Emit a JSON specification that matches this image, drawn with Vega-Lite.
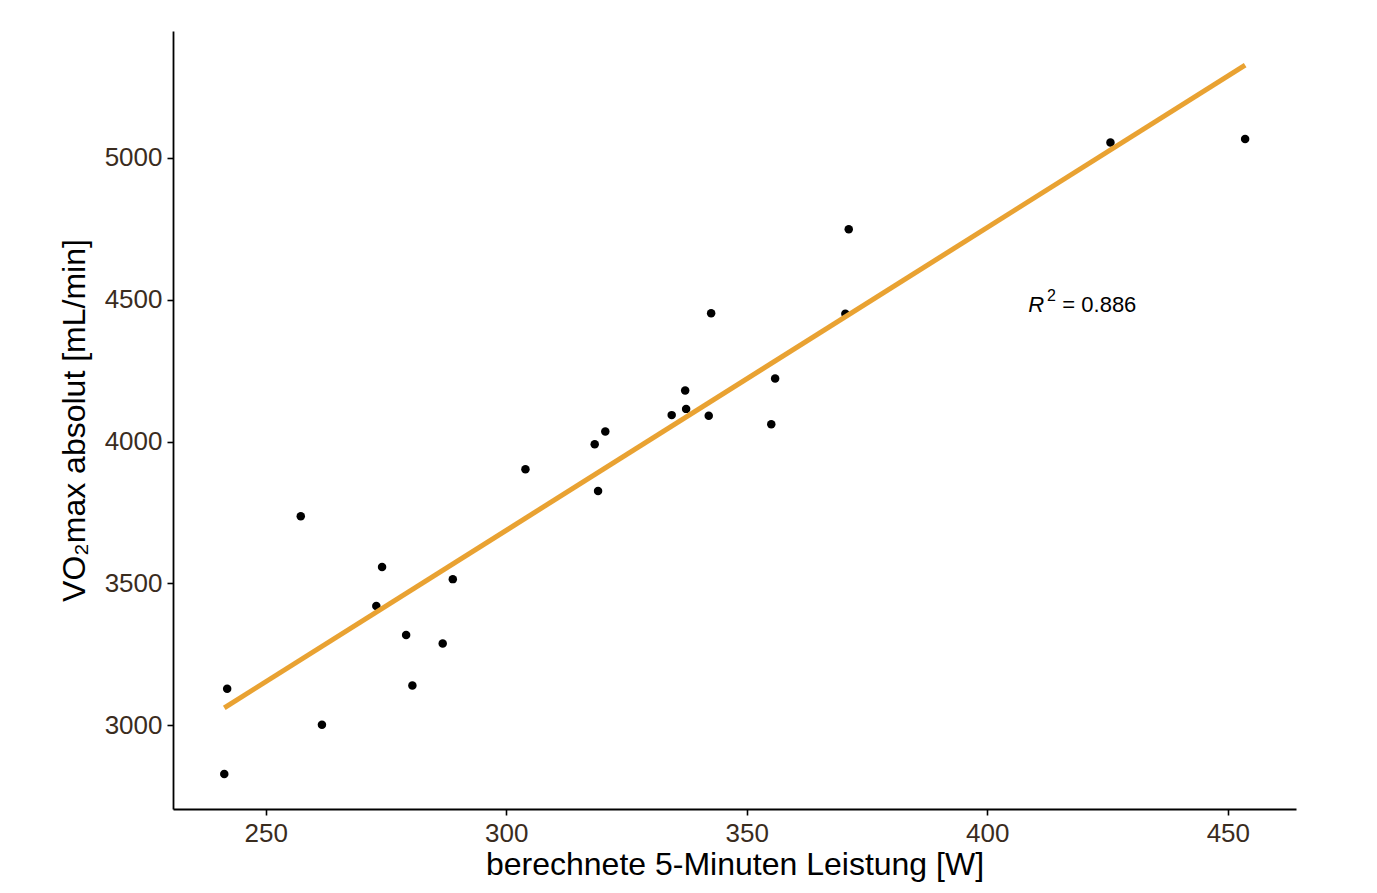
{
  "$schema": "https://vega.github.io/schema/vega-lite/v6.json",
  "autosize": "none",
  "width": 1123,
  "height": 778,
  "padding": {"left": 173, "top": 31, "right": 81, "bottom": 84},
  "background": "white",
  "config": {
    "view": {"stroke": null},
    "font": "Liberation Sans",
    "axis": {
      "grid": false,
      "domainColor": "#000000",
      "domainWidth": 1.8,
      "tickColor": "#000000",
      "tickWidth": 1.6,
      "tickSize": 6,
      "labelFont": "Liberation Sans",
      "labelFontSize": 26,
      "labelColor": "#3a2c1e",
      "labelPadding": 5,
      "titleFont": "Liberation Sans",
      "titleFontSize": 32,
      "titleFontWeight": "normal",
      "titleColor": "#000000"
    }
  },
  "datasets": {
    "athletes": [
      {"power": 241.4, "vo2": 2828},
      {"power": 242.0, "vo2": 3129},
      {"power": 257.3, "vo2": 3737},
      {"power": 261.7, "vo2": 3002},
      {"power": 273.0, "vo2": 3420},
      {"power": 274.2, "vo2": 3558},
      {"power": 279.2, "vo2": 3318},
      {"power": 280.5, "vo2": 3140},
      {"power": 286.8, "vo2": 3288},
      {"power": 288.9, "vo2": 3515},
      {"power": 304.0, "vo2": 3902},
      {"power": 318.4, "vo2": 3990},
      {"power": 319.1, "vo2": 3826},
      {"power": 320.6, "vo2": 4035},
      {"power": 334.4, "vo2": 4093},
      {"power": 337.2, "vo2": 4180},
      {"power": 337.4, "vo2": 4115},
      {"power": 342.1, "vo2": 4091},
      {"power": 342.6, "vo2": 4452},
      {"power": 355.1, "vo2": 4061},
      {"power": 355.9, "vo2": 4222},
      {"power": 370.5, "vo2": 4450},
      {"power": 371.2, "vo2": 4748},
      {"power": 425.6, "vo2": 5054},
      {"power": 453.6, "vo2": 5066}
    ]
  },
  "layer": [
    {
      "data": {"name": "athletes"},
      "mark": {"type": "circle", "size": 72, "color": "#000000", "opacity": 1},
      "encoding": {
        "x": {
          "field": "power",
          "type": "quantitative",
          "title": "berechnete 5-Minuten Leistung [W]",
          "scale": {"domain": [230.74, 464.17], "nice": false, "zero": false},
          "axis": {"values": [250, 300, 350, 400, 450], "format": "d", "titlePadding": 3}
        },
        "y": {
          "field": "vo2",
          "type": "quantitative",
          "title": "VO₂max absolut [mL/min]",
          "scale": {"domain": [2704.9, 5446.7], "nice": false, "zero": false},
          "axis": {"values": [3000, 3500, 4000, 4500, 5000], "format": "d", "titlePadding": 13}
        }
      }
    },
    {
      "data": {"name": "athletes"},
      "transform": [{"regression": "vo2", "on": "power"}],
      "mark": {"type": "line", "color": "#E9A232", "strokeWidth": 5},
      "encoding": {
        "x": {"field": "power", "type": "quantitative"},
        "y": {"field": "vo2", "type": "quantitative"}
      }
    },
    {
      "data": {"values": [{"label": "R"}]},
      "mark": {"type": "text", "align": "left", "baseline": "alphabetic", "fontSize": 22, "fontStyle": "italic", "color": "#000000"},
      "encoding": {
        "x": {"datum": 408.5, "type": "quantitative"},
        "y": {"datum": 4456, "type": "quantitative"},
        "text": {"field": "label"}
      }
    },
    {
      "data": {"values": [{"label": "2"}]},
      "mark": {"type": "text", "align": "left", "baseline": "alphabetic", "fontSize": 16, "color": "#000000"},
      "encoding": {
        "x": {"datum": 412.4, "type": "quantitative"},
        "y": {"datum": 4495, "type": "quantitative"},
        "text": {"field": "label"}
      }
    },
    {
      "data": {"values": [{"label": "= 0.886"}]},
      "mark": {"type": "text", "align": "left", "baseline": "alphabetic", "fontSize": 22, "color": "#000000"},
      "encoding": {
        "x": {"datum": 415.6, "type": "quantitative"},
        "y": {"datum": 4456, "type": "quantitative"},
        "text": {"field": "label"}
      }
    }
  ]
}
